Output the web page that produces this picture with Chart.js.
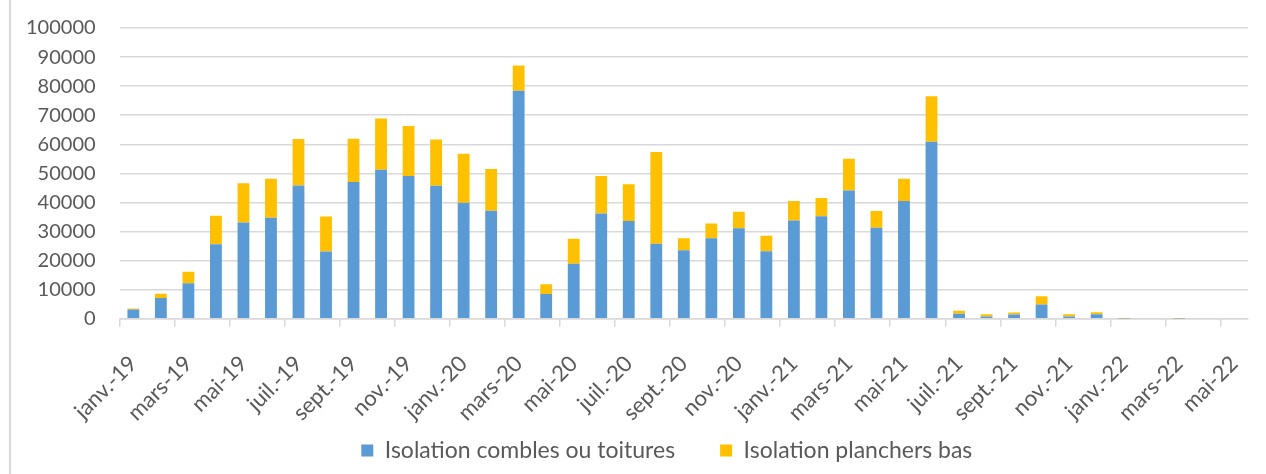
<!DOCTYPE html>
<html>
<head>
<meta charset="utf-8">
<script src="https://cdn.jsdelivr.net/npm/chart.js@4"></script>
<style>
  body { margin: 0; background: #fff; overflow: hidden; }
  #wrap { position: relative; width: 1266px; height: 474px; overflow: hidden; }
  #edge { position: absolute; left: 9px; top: 0; width: 2px; height: 474px; background: #d9d9d9; }
  canvas { display: block; margin-top: -8px; }
</style>
</head>
<body>
<div id="wrap">
  <div id="edge"></div>
  <canvas id="chart" width="1266" height="482"></canvas>
</div>
<script>
// months, janv. 2019 -> mai 2022
const months = [
  'janv.-19', 'févr.-19', 'mars-19', 'avr.-19', 'mai-19', 'juin-19', 'juil.-19', 'août-19', 'sept.-19', 'oct.-19', 'nov.-19', 'déc.-19',
  'janv.-20', 'févr.-20', 'mars-20', 'avr.-20', 'mai-20', 'juin-20', 'juil.-20', 'août-20', 'sept.-20', 'oct.-20', 'nov.-20', 'déc.-20',
  'janv.-21', 'févr.-21', 'mars-21', 'avr.-21', 'mai-21', 'juin-21', 'juil.-21', 'août-21', 'sept.-21', 'oct.-21', 'nov.-21', 'déc.-21',
  'janv.-22', 'févr.-22', 'mars-22', 'avr.-22', 'mai-22'
];

const combles = [
  3100, 7100, 12200, 25600, 33100, 34700, 45800, 23100, 47000, 51200, 49100, 45700,
  39900, 37100, 78400, 8500, 18900, 36200, 33600, 25800, 23500, 27700, 31100, 23200,
  33800, 35200, 44100, 31300, 40500, 60900, 1700, 700, 1400, 4900, 700, 1500,
  50, 0, 50, 0, 0
];

const planchers = [
  400, 1500, 3900, 9800, 13500, 13400, 16000, 12000, 14900, 17700, 17200, 15900,
  16800, 14400, 8700, 3300, 8600, 12900, 12600, 31500, 4200, 5000, 5700, 5300,
  6700, 6300, 10900, 5700, 7600, 15600, 1000, 800, 700, 2800, 800, 700,
  150, 0, 150, 0, 0
];

const yTicks = { min: 0, max: 100000, step: 10000 };

const textColor = '#595959';
const gridColor = '#d9d9d9';
const fontFamily = 'Lato, "Liberation Sans", sans-serif';

// pull the legend row up and left a bit (wide item gap, tight top gap)
const legendNudge = {
  id: 'legendNudge',
  afterLayout(chart) {
    const l = chart.legend;
    l.top -= 56;
    l.left -= 17; l.right -= 17;
  }
};

new Chart(document.getElementById('chart'), {
  type: 'bar',
  data: {
    labels: months,
    datasets: [
      { label: 'Isolation combles ou toitures', data: combles, backgroundColor: '#5b9bd5', barPercentage: 0.43, categoryPercentage: 1 },
      { label: 'Isolation planchers bas', data: planchers, backgroundColor: '#ffc000', barPercentage: 0.43, categoryPercentage: 1 }
    ]
  },
  options: {
    responsive: false,
    animation: false,
    layout: { padding: { left: 2, right: 18, top: 0, bottom: 0 } },
    scales: {
      x: {
        stacked: true,
        offset: true,
        afterFit: s => { s.paddingRight = 0; },
        grid: {
          offset: true,
          drawOnChartArea: false,
          tickLength: 8,
          lineWidth: 1.5,
          color: ctx => ctx.index % 2 === 0 ? gridColor : 'rgba(0,0,0,0)'
        },
        border: { color: gridColor, width: 1.5 },
        ticks: {
          autoSkip: false,
          maxRotation: 45,
          minRotation: 45,
          padding: 24,
          color: textColor,
          font: { family: fontFamily, size: 22 },
          callback: function (v, i) { return i % 2 === 0 ? this.getLabelForValue(v) : ''; }
        }
      },
      y: {
        stacked: true,
        min: yTicks.min,
        max: yTicks.max,
        grid: { color: gridColor, lineWidth: 1.5, drawTicks: false },
        border: { display: false },
        ticks: {
          stepSize: yTicks.step,
          padding: 24,
          color: textColor,
          font: { family: fontFamily, size: 20 },
          callback: v => String(v)
        }
      }
    },
    plugins: {
      legend: {
        position: 'bottom',
        fullSize: false,
        maxHeight: 24,
        labels: {
          boxWidth: 12,
          boxHeight: 12,
          padding: 45,
          color: textColor,
          font: { family: fontFamily, size: 23 }
        }
      },
      tooltip: { enabled: false }
    }
  },
  plugins: [legendNudge]
});
</script>
</body>
</html>
